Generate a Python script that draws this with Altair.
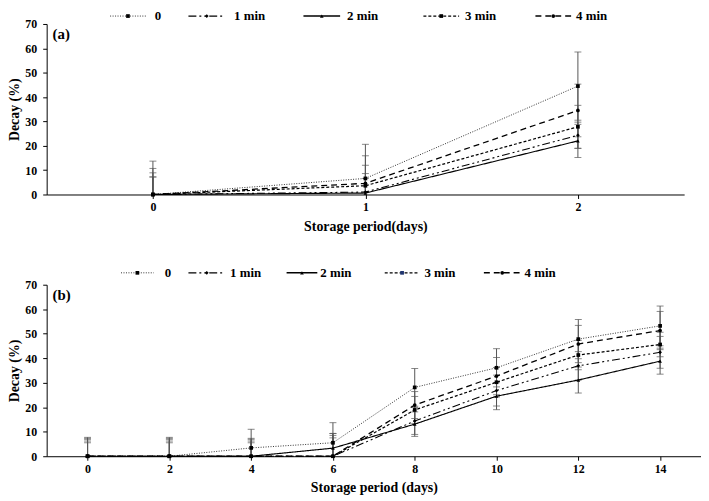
import altair as alt
import pandas as pd

SERIES = ["0", "1 min", "2 min", "3 min", "4 min"]

# ---------------- Panel (a): storage period 0-2 days ----------------
days_a = [0, 1, 2]
a_0 = [0.0, 6.6, 44.5]
a_1min = [0.0, 1.0, 24.3]
a_2min = [0.0, 0.6, 22.0]
a_3min = [0.0, 3.6, 27.8]
a_4min = [0.0, 4.6, 34.5]
a_err_0 = [13.7, 14.0, 14.0]
a_err_1min = [7.2, 7.6, 5.4]
a_err_2min = [7.2, 6.0, 6.8]
a_err_3min = [8.9, 8.4, 8.8]
a_err_4min = [10.7, 11.3, 10.8]

# ---------------- Panel (b): storage period 0-14 days ----------------
days_b = [0, 2, 4, 6, 8, 10, 12, 14]
b_0 = [0.0, 0.0, 3.4, 5.5, 28.1, 36.1, 47.8, 53.2]
b_1min = [0.0, 0.0, 0.0, 0.0, 14.4, 26.8, 36.9, 42.4]
b_2min = [0.0, 0.0, 0.0, 3.3, 13.1, 24.5, 31.1, 38.8]
b_3min = [0.0, 0.0, 0.0, 0.0, 18.9, 30.2, 41.3, 45.6]
b_4min = [0.0, 0.0, 0.0, 0.0, 20.9, 32.7, 45.8, 51.3]
b_err_0 = [7.7, 7.7, 7.6, 8.2, 7.7, 7.8, 8.0, 8.1]
b_err_1min = [6.2, 6.2, 6.2, 7.5, 5.5, 6.3, 5.8, 6.5]
b_err_2min = [5.5, 5.5, 5.5, 6.0, 5.0, 5.5, 5.3, 5.3]
b_err_3min = [6.9, 6.9, 6.9, 8.5, 5.5, 6.0, 6.0, 5.0]
b_err_4min = [7.3, 7.3, 7.3, 9.3, 5.5, 7.6, 7.6, 7.8]

y_ticks = [0, 10, 20, 30, 40, 50, 60, 70]

FONT = "'Liberation Serif', 'Times New Roman', 'DejaVu Serif', serif"
DASHES = [[1, 1.5], [8, 3, 2, 3, 2, 3], [1, 0], [3, 2], [6, 4]]
WIDTHS = [1.0, 1.3, 1.5, 1.3, 1.5]
LINE_COLORS = ["#333333", "#000000", "#000000", "#000000", "#000000"]
SHAPES = ["square", "diamond", "triangle-up", "square", "circle"]


def long_df(days, vals, errs):
    rows = []
    for s, vl, el in zip(SERIES, vals, errs):
        for d, v, e in zip(days, vl, el):
            rows.append(dict(day=d, series=s, value=v, lo=max(0.0, v - e), hi=v + e))
    return pd.DataFrame(rows)


def one_row():
    return pd.DataFrame({"k": [0]})


def panel(df, xdom, xticks, xtitle, width, height, tag, legend_layout, legend_y, marker_colors):
    xs = alt.Scale(domain=xdom, nice=False, zero=False)
    ys = alt.Scale(domain=[0, 70], nice=False, zero=True)
    xaxis = alt.Axis(values=xticks, title=xtitle, format="d", tickSize=4, labelPadding=3,
                     titlePadding=7, labelFlush=False, grid=False)
    yaxis = alt.Axis(values=y_ticks, title="Decay (%)", tickSize=4, labelPadding=6,
                     titlePadding=3, labelFlush=False, grid=False)
    X = alt.X("day:Q", scale=xs, axis=xaxis)
    base = alt.Chart(df)

    err = base.mark_rule(color="#555555", strokeWidth=1).encode(
        x=X, y=alt.Y("lo:Q", scale=ys, axis=yaxis), y2="hi:Q")
    cap_hi = base.mark_tick(orient="horizontal", size=7, thickness=1, color="#555555").encode(
        x=X, y=alt.Y("hi:Q", scale=ys, axis=yaxis))
    cap_lo = base.transform_filter("datum.lo > 0").mark_tick(
        orient="horizontal", size=7, thickness=1, color="#555555").encode(
        x=X, y=alt.Y("lo:Q", scale=ys, axis=yaxis))

    line = base.mark_line().encode(
        x=X, y=alt.Y("value:Q", scale=ys, axis=yaxis),
        detail="series:N",
        color=alt.Color("series:N", scale=alt.Scale(domain=SERIES, range=LINE_COLORS), legend=None),
        strokeDash=alt.StrokeDash("series:N", scale=alt.Scale(domain=SERIES, range=DASHES), legend=None),
        strokeWidth=alt.StrokeWidth("series:N", scale=alt.Scale(domain=SERIES, range=WIDTHS), legend=None),
    )
    pts = base.mark_point(filled=True, opacity=1).encode(
        x=X, y=alt.Y("value:Q", scale=ys, axis=yaxis),
        shape=alt.Shape("series:N", scale=alt.Scale(domain=SERIES, range=SHAPES), legend=None),
        fill=alt.Fill("series:N", scale=alt.Scale(domain=SERIES, range=marker_colors), legend=None),
        size=alt.value(14),
    )

    layers = [err, cap_hi, cap_lo, line, pts]

    for i, (s, (x0, x1, xt)) in enumerate(zip(SERIES, legend_layout)):
        d = alt.Chart(one_row())
        layers.append(d.mark_rule(strokeDash=DASHES[i], strokeWidth=WIDTHS[i], color=LINE_COLORS[i]).encode(
            x=alt.value(x0), x2=alt.value(x1), y=alt.value(legend_y)))
        layers.append(d.mark_point(filled=True, opacity=1, shape=SHAPES[i], size=14,
                                   color=marker_colors[i]).encode(
            x=alt.value((x0 + x1) / 2), y=alt.value(legend_y)))
        layers.append(d.mark_text(text=s, align="left", baseline="middle", font=FONT,
                                  fontSize=13, fontWeight="bold", color="black").encode(
            x=alt.value(xt), y=alt.value(legend_y)))

    layers.append(alt.Chart(one_row()).mark_text(
        text=tag, align="left", baseline="middle", font=FONT, fontSize=15,
        fontWeight="bold", color="black").encode(x=alt.value(6), y=alt.value(10)))

    return alt.layer(*layers).properties(width=width, height=height)


df_a = long_df(days_a, [a_0, a_1min, a_2min, a_3min, a_4min],
               [a_err_0, a_err_1min, a_err_2min, a_err_3min, a_err_4min])
df_b = long_df(days_b, [b_0, b_1min, b_2min, b_3min, b_4min],
               [b_err_0, b_err_1min, b_err_2min, b_err_3min, b_err_4min])

# legend layout (pixels relative to the plot's left edge): line start, line end, text start
legend_a = [(64, 100, 109), (143, 180, 189), (259, 296, 303), (380, 416, 422), (493, 529, 534)]
legend_b = [(75, 108, 119), (143, 180, 185), (242, 273, 276), (341, 376, 381), (441, 478, 482)]

marker_a = ["#000000"] * 5
marker_b = ["#000000", "#000000", "#000000", "#1f3570", "#000000"]

pa = panel(df_a, [-0.5, 2.5], days_a, "Storage period(days)", 643, 172, "(a)", legend_a, -8, marker_a)
pb = panel(df_b, [-1, 15], days_b, "Storage period (days)", 660, 173, "(b)", legend_b, -12, marker_b)

chart = alt.vconcat(pa, pb, spacing=34).properties(
    padding={"left": 0, "top": 0, "right": 0, "bottom": 0}
).configure_view(stroke=None).configure_axis(
    labelFont=FONT, titleFont=FONT, labelFontWeight="bold", titleFontWeight="bold",
    labelFontSize=12, titleFontSize=14, labelColor="black", titleColor="black",
    domainColor="black", tickColor="black", domainWidth=1, tickWidth=1,
)

chart.save("out.html", embed_options={"renderer": "svg", "actions": False})
